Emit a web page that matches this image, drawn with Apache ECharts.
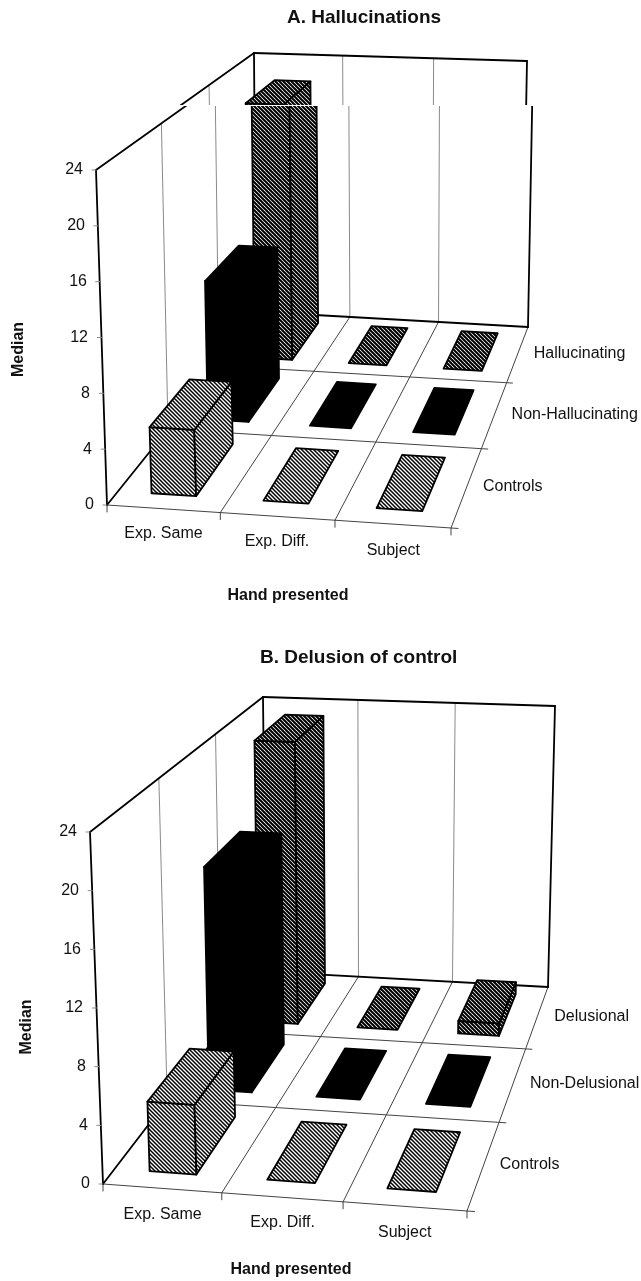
<!DOCTYPE html>
<html>
<head>
<meta charset="utf-8">
<style>
  html, body { margin: 0; padding: 0; background: #fff; }
  #chart { width: 641px; height: 1281px; }
</style>
<script src="https://cdn.jsdelivr.net/npm/echarts@6/dist/echarts.min.js"></script>
</head>
<body>
<div id="chart"></div>
<script>
const handCategories = ['Exp. Same', 'Exp. Diff.', 'Subject'];
const medianTicks = [0, 4, 8, 12, 16, 20, 24];

const rowsA = ['Controls', 'Non-Hallucinating', 'Hallucinating'];
const controlsA = [4.8, 0, 0];
const nonHallucinatingA = [11, 0, 0];
const hallucinatingA = [22, 0, 0];

const rowsB = ['Controls', 'Non-Delusional', 'Delusional'];
const controlsB = [4.8, 0, 0];
const nonDelusionalB = [16.8, 0, 0];
const delusionalB = [23, 0, 1];

// corners of the 3d box as [front-left, front-right, back-right, back-left]
const panelA = {
  title: 'A. Hallucinations', titleX: 282, titleY: 3,
  floor: [[107, 505], [451, 528], [528, 327], [262, 312]],
  ceil: [[96, 170], [454, 187], [533, 61], [260, 53]],
  grid: { left: 100, top: 170, width: 376, height: 335 },
  nameGap: 73, xNameGap: 83, namePad: 24,
  catOffset: [[0, 25], [-0.5, 25], [0.5, 26]],
  rowOffset: [16, 17, 16],
  seam: { y: 106, dx: -6 },
  rows: rowsA, series: [controlsA, nonHallucinatingA, hallucinatingA]
};
const panelB = {
  title: 'B. Delusion of control', titleX: 255, titleY: 643,
  floor: [[103, 1184], [467, 1211], [548, 987], [266, 971.6]],
  ceil: [[90, 832], [472, 851], [555, 706], [263, 697]],
  grid: { left: 96, top: 832, width: 390, height: 352 },
  nameGap: 61, xNameGap: 78, namePad: 38,
  catOffset: [[0.5, 26], [0.5, 25], [0, 26]],
  rowOffset: [16, 17, 17],
  rows: rowsB, series: [controlsB, nonDelusionalB, delusionalB]
};

const fontFamily = '"Liberation Sans", Arial, sans-serif';
const textColor = '#111';

function makeHatch(width) {
  const c = document.createElement('canvas');
  c.width = 4; c.height = 4;
  const g = c.getContext('2d');
  g.fillStyle = '#fff';
  g.fillRect(0, 0, 4, 4);
  g.strokeStyle = '#000';
  g.lineWidth = width;
  [-4, 0, 4].forEach((o) => {
    g.beginPath();
    g.moveTo(o - 1, -1);
    g.lineTo(o + 5, 5);
    g.stroke();
  });
  return { image: c, repeat: 'repeat' };
}
const rowFills = [makeHatch(1.5), '#000', makeHatch(2.1)];

function homography(q) {
  const [[x0, y0], [x1, y1], [x2, y2], [x3, y3]] = q;
  const dx1 = x1 - x2, dx2 = x3 - x2, sx = x0 - x1 + x2 - x3;
  const dy1 = y1 - y2, dy2 = y3 - y2, sy = y0 - y1 + y2 - y3;
  const den = dx1 * dy2 - dx2 * dy1;
  const g = (sx * dy2 - dx2 * sy) / den;
  const h = (dx1 * sy - sx * dy1) / den;
  const a = x1 - x0 + g * x1, b = x3 - x0 + h * x3;
  const d = y1 - y0 + g * y1, e = y3 - y0 + h * y3;
  return (u, v) => {
    const w = g * u + h * v + 1;
    return [(a * u + b * v + x0) / w, (d * u + e * v + y0) / w];
  };
}

// u, v in cells (0..3), f = height as a share of the value axis
function projector(panel) {
  const floor = homography(panel.floor);
  const ceil = homography(panel.ceil);
  return (u, v, f) => {
    const p = floor(u / 3, v / 3);
    const t = ceil(u / 3, v / 3);
    return [p[0] + (t[0] - p[0]) * f, p[1] + (t[1] - p[1]) * f];
  };
}

function line(a, b, width, color) {
  return {
    type: 'line',
    shape: { x1: a[0], y1: a[1], x2: b[0], y2: b[1] },
    style: { stroke: color, lineWidth: width, lineCap: 'round' }
  };
}

function poly(points, fill) {
  return {
    type: 'polygon',
    shape: { points },
    style: { fill, stroke: '#000', lineWidth: 1.8, lineJoin: 'round' }
  };
}

function label(text, x, y, align) {
  return {
    type: 'text',
    style: {
      text, x, y, align, verticalAlign: 'middle',
      font: '16px ' + fontFamily, fill: textColor
    }
  };
}

// panel A was pasted together from two pieces, the upper one sits a bit to the left
function withSeam(panel, build) {
  if (!panel.seam) return { type: 'group', children: build() };
  return {
    type: 'group',
    children: [
      {
        type: 'group',
        clipPath: { type: 'rect', shape: { x: 0, y: panel.seam.y, width: 641, height: 640 } },
        children: build()
      },
      {
        type: 'group',
        x: panel.seam.dx,
        clipPath: { type: 'rect', shape: { x: 0, y: 0, width: 641, height: panel.seam.y - 1 } },
        children: build()
      }
    ]
  };
}

function frameRenderer(panel) {
  const P = projector(panel);
  const grey = '#8a8a8a', thin = '#444', heavy = '#000';
  const build = () => {
    const out = [];
    [1, 2].forEach((i) => {
      out.push(line(P(i, 3, 0), P(i, 3, 1), 1, grey));
      out.push(line(P(0, i, 0), P(0, i, 1), 1, grey));
      out.push(line(P(i, 0, 0), P(i, 3, 0), 1, thin));
      out.push(line(P(0, i, 0), P(3.06, i, 0), 1, thin));
    });
    out.push(line(P(0, 0, 0), P(3.06, 0, 0), 1, thin));
    out.push(line(P(3, 0, 0), P(3, 3, 0), 1, thin));
    [0, 1, 2, 3].forEach((i) => {
      const a = P(i, 0, 0);
      out.push(line(a, [a[0], a[1] + 7], 1, thin));
    });
    out.push(line(P(0, 0, 0), P(0, 3, 0), 1.8, heavy));
    out.push(line(P(0, 3, 0), P(3, 3, 0), 1.8, heavy));
    out.push(line(P(0, 0, 0), P(0, 0, 1), 1.8, heavy));
    out.push(line(P(0, 3, 0), P(0, 3, 1), 1.8, heavy));
    out.push(line(P(3, 3, 0), P(3, 3, 1), 1.8, heavy));
    out.push(line(P(0, 0, 1), P(0, 3, 1), 1.8, heavy));
    out.push(line(P(0, 3, 1), P(3, 3, 1), 1.8, heavy));
    return out;
  };
  return (params, api) => {
    const group = withSeam(panel, build);
    const top = panel.grid.height;
    medianTicks.forEach((t) => {
      const share = (api.coord([0, 0])[1] - api.coord([0, t])[1]) / top;
      const a = P(0, 0, share);
      group.children.push(line([a[0] - 4, a[1]], a, 1, grey));
    });
    handCategories.forEach((name, i) => {
      const a = P(i + 0.5, 0, 0);
      const o = panel.catOffset[i];
      group.children.push(label(name, a[0] + o[0], a[1] + o[1], 'center'));
    });
    panel.rows.forEach((name, j) => {
      const a = P(3, j + 0.5, 0);
      group.children.push(label(name, a[0] + panel.rowOffset[j], a[1], 'left'));
    });
    return group;
  };
}

function barRenderer(panel, rowIndex) {
  const P = projector(panel);
  const u0 = 0.3, u1 = 0.7, v0 = 0.17, v1 = 0.85;
  return (params, api) => {
    const i = api.value(0);
    const base = api.coord([i, 0])[1];
    const share = (base - api.coord([i, api.value(1)])[1]) / params.coordSys.height;
    const fill = rowFills[rowIndex];
    const corner = (u, v, f) => P(i + u, rowIndex + v, f);
    const build = () => {
      const top = [corner(u0, v0, share), corner(u1, v0, share), corner(u1, v1, share), corner(u0, v1, share)];
      if (share <= 0) return [poly(top, fill)];
      return [
        poly([corner(u0, v0, 0), corner(u1, v0, 0), top[1], top[0]], fill),
        poly([corner(u1, v0, 0), corner(u1, v1, 0), top[2], top[1]], fill),
        poly(top, fill)
      ];
    };
    return withSeam(panel, build);
  };
}

const panels = [panelA, panelB];
const option = {
  animation: false,
  backgroundColor: '#fff',
  title: panels.map((p) => ({
    text: p.title,
    left: p.titleX,
    top: p.titleY,
    textStyle: { fontFamily, fontSize: 19, fontWeight: 'bold', color: textColor }
  })),
  grid: panels.map((p) => p.grid),
  xAxis: panels.map((p, k) => ({
    type: 'category',
    gridIndex: k,
    data: handCategories,
    name: 'Hand presented',
    nameLocation: 'middle',
    nameGap: p.xNameGap,
    nameTextStyle: { fontFamily, fontSize: 16, fontWeight: 'bold', color: textColor },
    axisLine: { show: false },
    axisTick: { show: false },
    axisLabel: { show: false },
    splitLine: { show: false }
  })),
  yAxis: panels.map((p, k) => {
    const P = projector(p);
    const rich = {};
    medianTicks.forEach((t) => {
      rich['t' + t] = {
        fontFamily, fontSize: 16, color: textColor,
        padding: [0, Math.round(P(0, 0, 0)[0] - P(0, 0, t / 24)[0]), 0, 0]
      };
    });
    return {
      type: 'value',
      gridIndex: k,
      min: 0,
      max: 24,
      interval: 4,
      name: 'Median',
      nameLocation: 'middle',
      nameGap: p.nameGap,
      nameTextStyle: {
        fontFamily, fontSize: 16, fontWeight: 'bold', color: textColor,
        padding: [0, p.namePad, 0, 0]
      },
      axisLine: { show: false },
      axisTick: { show: false },
      splitLine: { show: false },
      axisLabel: { margin: 6, formatter: (v) => `{t${v}|${v}}`, rich }
    };
  }),
  series: panels.flatMap((p, k) => {
    const list = [{
      type: 'custom',
      name: 'frame',
      xAxisIndex: k,
      yAxisIndex: k,
      silent: true,
      z: 1,
      data: [[0, 0]],
      renderItem: frameRenderer(p)
    }];
    // back row first so the nearer bars paint over it
    [2, 1, 0].forEach((j) => {
      list.push({
        type: 'custom',
        name: p.rows[j],
        xAxisIndex: k,
        yAxisIndex: k,
        silent: true,
        z: 5 - j,
        data: p.series[j].map((v, i) => [i, v]),
        renderItem: barRenderer(p, j)
      });
    });
    return list;
  })
};

const myChart = echarts.init(document.getElementById('chart'));
myChart.setOption(option);
</script>
</body>
</html>
